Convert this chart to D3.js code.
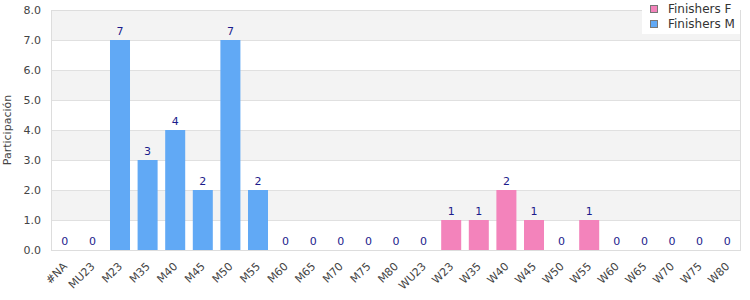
<!DOCTYPE html>
<html>
<head>
<meta charset="utf-8">
<script src="https://cdn.jsdelivr.net/npm/d3@7"></script>
<style>
  body { margin: 0; background: #fff; }
  text { font-family: "DejaVu Sans", Verdana, sans-serif; }
</style>
</head>
<body>
<svg id="chart"></svg>
<script>
// Categories and series values
const categories = ["#NA", "MU23", "M23", "M35", "M40", "M45", "M50", "M55", "M60", "M65", "M70", "M75", "M80",
    "WU23", "W23", "W35", "W40", "W45", "W50", "W55", "W60", "W65", "W70", "W75", "W80"];
const finishersF = [0, 0, 0, 0, 0, 0, 0, 0, 0, 0, 0, 0, 0, 0, 1, 1, 2, 1, 0, 1, 0, 0, 0, 0, 0];
const finishersM = [0, 0, 7, 3, 4, 2, 7, 2, 0, 0, 0, 0, 0, 0, 0, 0, 0, 0, 0, 0, 0, 0, 0, 0, 0];
const yTicks = [0, 1, 2, 3, 4, 5, 6, 7, 8];

const seriesNames = ["Finishers F", "Finishers M"];
const colors = { "Finishers F": "#f383bb", "Finishers M": "#61a9f5" };

// Set up SVG dimensions
const margin = { top: 10, right: 9, bottom: 50, left: 51 };
const width = 750 - margin.left - margin.right;
const height = 300 - margin.top - margin.bottom;

const root = d3.select("#chart")
    .attr("width", width + margin.left + margin.right)
    .attr("height", height + margin.top + margin.bottom);

const svg = root.append("g")
    .attr("transform", "translate(" + margin.left + "," + margin.top + ")");

// Build table for stacking
const table = categories.map((c, i) => ({
    cat: c,
    "Finishers F": finishersF[i],
    "Finishers M": finishersM[i]
}));

const x = d3.scaleBand()
    .domain(categories)
    .range([0, width])
    .paddingInner(0.275)
    .paddingOuter(0.1375);

const y = d3.scaleLinear()
    .domain([0, 8])
    .range([height, 0]);

// Alternating background bands
svg.selectAll(".band")
    .data(yTicks.slice(0, -1))
    .enter().append("rect")
    .attr("x", 0)
    .attr("width", width)
    .attr("y", d => y(d + 1))
    .attr("height", d => y(d) - y(d + 1))
    .attr("fill", d => d % 2 === 1 ? "#f3f3f3" : "#ffffff");

// Grid lines
svg.append("g")
    .attr("class", "grid")
    .call(d3.axisLeft(y).tickValues(yTicks).tickSize(-width).tickFormat(""))
    .call(g => g.select(".domain").remove())
    .call(g => g.selectAll("line").attr("stroke", "#e0e0e0"));

// Bars (stacked)
const stack = d3.stack().keys(seriesNames);
const layers = stack(table);

svg.selectAll(".layer")
    .data(layers)
    .enter().append("g")
    .attr("fill", d => colors[d.key])
    .selectAll("rect")
    .data(d => d)
    .enter().append("rect")
    .attr("x", d => x(d.data.cat))
    .attr("width", x.bandwidth())
    .attr("y", d => y(d[1]))
    .attr("height", d => y(d[0]) - y(d[1]));

// Plot border
svg.append("rect")
    .attr("x", 0.5)
    .attr("y", 0.5)
    .attr("width", width - 1)
    .attr("height", height)
    .attr("fill", "none")
    .attr("stroke", "#dddddd");

// Value labels
svg.selectAll(".value")
    .data(table)
    .enter().append("text")
    .attr("x", d => x(d.cat) + x.bandwidth() / 2)
    .attr("y", d => y(d["Finishers F"] + d["Finishers M"]) - 5)
    .attr("text-anchor", "middle")
    .style("font-size", "11px")
    .attr("fill", "#1c1c8c")
    .text(d => d["Finishers F"] + d["Finishers M"]);

// Y axis
svg.append("g")
    .call(d3.axisLeft(y).tickValues(yTicks).tickSize(0).tickPadding(10).tickFormat(d3.format(".1f")))
    .call(g => g.select(".domain").remove())
    .call(g => g.selectAll("text").style("font-size", "11px").attr("fill", "#444"));

// X axis
svg.append("g")
    .attr("transform", "translate(0," + height + ")")
    .call(d3.axisBottom(x).tickSize(0))
    .call(g => g.select(".domain").remove())
    .call(g => g.selectAll("text")
        .style("font-size", "11px")
        .attr("fill", "#444")
        .attr("text-anchor", "end")
        .attr("x", 0)
        .attr("y", 0)
        .attr("dy", 0)
        .attr("transform", "translate(3,17) rotate(-45)"));

// Y axis label
root.append("text")
    .attr("transform", "rotate(-90)")
    .attr("x", -(margin.top + height / 2))
    .attr("y", 11)
    .attr("text-anchor", "middle")
    .style("font-size", "11px")
    .attr("fill", "#444")
    .text("Participación");

// Legend
const legend = root.append("g").attr("transform", "translate(642,0)");
legend.append("rect")
    .attr("width", 98)
    .attr("height", 34)
    .attr("fill", "#fff");

seriesNames.forEach((name, i) => {
    legend.append("rect")
        .attr("x", 8.5)
        .attr("y", 5.5 + i * 15)
        .attr("width", 7)
        .attr("height", 7)
        .attr("fill", colors[name])
        .attr("stroke", "#777");
    legend.append("text")
        .attr("x", 26)
        .attr("y", 13 + i * 15)
        .style("font-size", "12px")
        .attr("fill", "#333")
        .text(name);
});
</script>
</body>
</html>
